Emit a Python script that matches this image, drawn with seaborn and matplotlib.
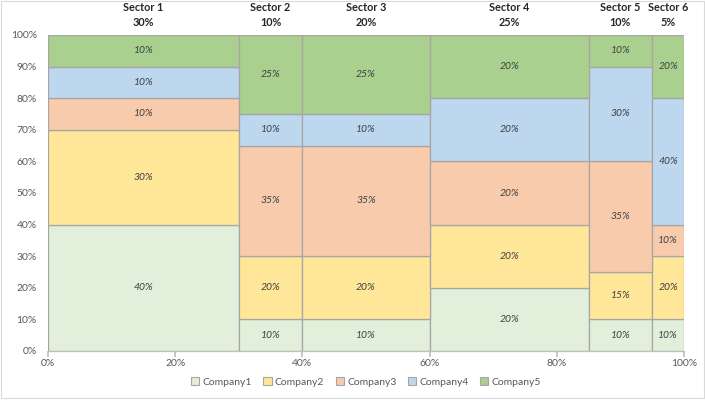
import matplotlib
matplotlib.use("Agg")
import matplotlib.pyplot as plt
from matplotlib.patches import Patch, Rectangle
from matplotlib.ticker import FuncFormatter, MultipleLocator
import numpy as np
import pandas as pd
import seaborn as sns

sectors = ["Sector 1", "Sector 2", "Sector 3", "Sector 4", "Sector 5", "Sector 6"]
sector_share = [30, 10, 20, 25, 10, 5]
companies = ["Company1", "Company2", "Company3", "Company4", "Company5"]
company1 = [40, 10, 10, 20, 10, 10]
company2 = [30, 20, 20, 20, 15, 20]
company3 = [10, 35, 35, 20, 35, 10]
company4 = [10, 10, 10, 20, 30, 40]
company5 = [10, 25, 25, 20, 10, 20]
colors = ["#E2EFDA", "#FFE699", "#F8CBAD", "#BDD7EE", "#A9D08E"]

sns.set_theme(style="white")
plt.rcParams["font.family"] = ["Lato", "DejaVu Sans"]

values = [company1, company2, company3, company4, company5]
edges = [0] + list(np.cumsum(sector_share).astype(float))
centers = [(edges[i] + edges[i + 1]) / 2 for i in range(len(sectors))]

rows = []
for c, vals in zip(companies, values):
    for s, x, v in zip(sectors, centers, vals):
        rows.append({"sector": s, "x": x, "company": c, "value": v})
df = pd.DataFrame(rows)

fig = plt.figure(figsize=(7.05, 4.01), dpi=100)
fig.patch.set_facecolor("white")
ax = fig.add_axes([48 / 705, 50 / 401, 636 / 705, 316 / 401])

for yv in np.arange(0.1, 1.01, 0.1):
    ax.axhline(yv, color="#D9D9D9", lw=0.8, zorder=0)

sns.histplot(data=df, x="x", weights="value", hue="company",
             hue_order=companies[::-1], bins=edges, multiple="fill",
             palette=dict(zip(companies, colors)), alpha=1,
             edgecolor="#A6A6A6", linewidth=0.9, legend=False, ax=ax, zorder=2)

# cell labels
for i in range(len(sectors)):
    bottom = 0.0
    total = sum(v[i] for v in values)
    for vals in values:
        h = vals[i] / total
        ax.text(centers[i], bottom + h / 2, f"{vals[i]}%", ha="center", va="center",
                fontsize=7.5, style="italic", color="#404040", zorder=3)
        bottom += h
    ax.text(centers[i], 1.022, f"{sectors[i]}\n{sector_share[i]}%", ha="center",
            va="bottom", fontsize=7.8, fontweight="bold", color="#262626",
            linespacing=1.45, clip_on=False)

ax.set_xlim(0, 100)
ax.set_ylim(0, 1)
ax.xaxis.set_major_locator(MultipleLocator(20))
ax.yaxis.set_major_locator(MultipleLocator(0.1))
ax.xaxis.set_major_formatter(FuncFormatter(lambda v, p: f"{v:.0f}%"))
ax.yaxis.set_major_formatter(FuncFormatter(lambda v, p: f"{v*100:.0f}%"))
ax.set_xlabel("")
ax.set_ylabel("")
for s in ["top", "right", "left"]:
    ax.spines[s].set_visible(False)
ax.spines["bottom"].set_color("#BFBFBF")
ax.spines["bottom"].set_linewidth(0.9)
ax.tick_params(axis="x", length=4, color="#BFBFBF", labelsize=7.5, labelcolor="#595959", pad=2, direction="out", bottom=True)
ax.tick_params(axis="y", length=0, labelsize=7.5, labelcolor="#595959", pad=8)

handles = [Patch(facecolor=c, edgecolor="#A6A6A6", linewidth=0.8) for c in colors]
fig.legend(handles, companies, loc="center", bbox_to_anchor=(366 / 705, 1 - 382 / 401),
           ncol=5, frameon=False, fontsize=7.5, handlelength=0.8, handleheight=0.8,
           handletextpad=0.3, columnspacing=1.1, labelcolor="#595959")

fig.patches.append(Rectangle((1 / 705, 3 / 401), 703 / 705, 397 / 401, transform=fig.transFigure,
                             fill=False, edgecolor="#D9D9D9", lw=0.8))

fig.savefig("out.png", dpi=100)
